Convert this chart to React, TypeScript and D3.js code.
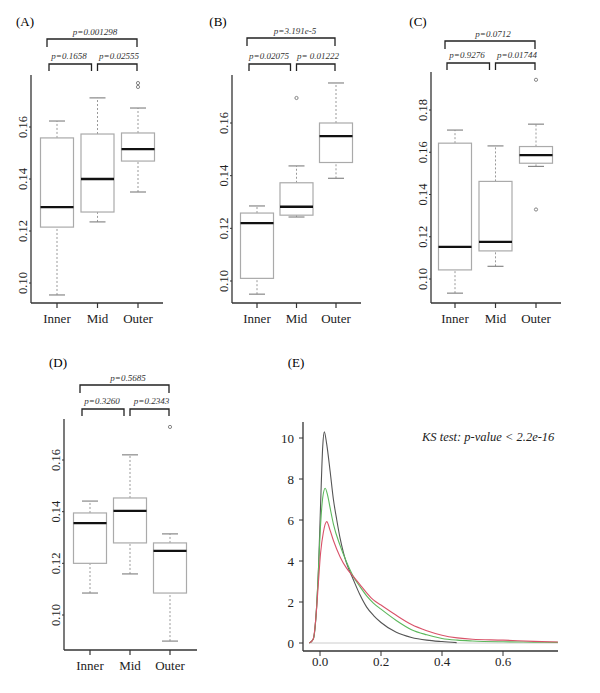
import React from "react";
import * as d3 from "d3";

const categories = ["Inner", "Mid", "Outer"];

// [min, q1, median, q3, max] per category
const statsA = [
  [0.0954, 0.1215, 0.1292, 0.1558, 0.1623],
  [0.1235, 0.1273, 0.14, 0.1573, 0.1712],
  [0.135, 0.1469, 0.1515, 0.1577, 0.1673],
];
const outliersA = [[], [], [0.1769, 0.1754]];
const pA = ["p=0.001298", "p=0.1658", "p=0.02555"];

const statsB = [
  [0.095, 0.101, 0.122, 0.1258, 0.1285],
  [0.1243, 0.125, 0.1282, 0.1373, 0.1437],
  [0.139, 0.145, 0.155, 0.16, 0.1752],
];
const outliersB = [[], [0.1695], []];
const pB = ["p=3.191e-5", "p=0.02075", "p= 0.01222"];

const statsC = [
  [0.0933, 0.1043, 0.1152, 0.1643, 0.1705],
  [0.106, 0.1133, 0.1176, 0.1462, 0.163],
  [0.1533, 0.1548, 0.1586, 0.1627, 0.1733],
];
const outliersC = [[], [], [0.1943, 0.1329]];
const pC = ["p=0.0712", "p=0.9276", "p=0.01744"];

const statsD = [
  [0.1085, 0.12, 0.1356, 0.1395, 0.1441],
  [0.1159, 0.1279, 0.1403, 0.1453, 0.162],
  [0.0899, 0.1085, 0.1248, 0.1279, 0.1314],
];
const outliersD = [[], [], [0.1728]];
const pD = ["p=0.5685", "p=0.3260", "p=0.2343"];

const ticksABD = [0.1, 0.12, 0.14, 0.16];
const ticksC = [0.1, 0.12, 0.14, 0.16, 0.18];

// Density curves for panel E: [x, density]
const densBlack: [number, number][] = [
  [-0.035, 0], [-0.022, 0.2], [-0.011, 1.8], [-0.005, 3.6], [0.002, 6.8],
  [0.009, 9.6], [0.014, 10.3], [0.022, 9.7], [0.033, 8.4], [0.044, 7.0],
  [0.055, 6.0], [0.066, 5.1], [0.077, 4.4], [0.087, 3.9], [0.109, 3.1],
  [0.131, 2.35], [0.153, 1.75], [0.175, 1.35], [0.2, 1.0], [0.25, 0.52],
  [0.3, 0.27], [0.35, 0.14], [0.4, 0.07], [0.448, 0.02],
];
const densGreen: [number, number][] = [
  [-0.035, 0], [-0.022, 0.2], [-0.011, 1.8], [-0.005, 3.6], [0.002, 5.8],
  [0.009, 7.1], [0.017, 7.55], [0.025, 7.2], [0.033, 6.6], [0.044, 5.8],
  [0.066, 4.75], [0.087, 3.95], [0.109, 3.25], [0.131, 2.75], [0.153, 2.3],
  [0.175, 1.95], [0.2, 1.65], [0.25, 1.1], [0.3, 0.65], [0.35, 0.4],
  [0.4, 0.22], [0.45, 0.14], [0.5, 0.1], [0.6, 0.06], [0.7, 0.04], [0.78, 0.03],
];
const densRed: [number, number][] = [
  [-0.035, 0], [-0.022, 0.2], [-0.011, 1.7], [-0.005, 3.0], [0.002, 4.4],
  [0.011, 5.4], [0.022, 5.92], [0.033, 5.5], [0.044, 5.0], [0.066, 4.2],
  [0.087, 3.65], [0.109, 3.25], [0.131, 2.85], [0.153, 2.45], [0.175, 2.1],
  [0.2, 1.85], [0.25, 1.35], [0.3, 0.9], [0.35, 0.6], [0.4, 0.38],
  [0.45, 0.25], [0.5, 0.18], [0.6, 0.14], [0.7, 0.08], [0.78, 0.05],
];
const ticksEX = [0, 0.2, 0.4, 0.6];
const ticksEY = [0, 2, 4, 6, 8, 10];

const FONT = "'Liberation Serif'";

type PanelProps = {
  label: string;
  labelX: number;
  labelY: number;
  axisX: number;
  xEnd: number;
  yTop: number;
  yBot: number;
  yDom: [number, number];
  yRange: [number, number];
  catRange: [number, number];
  stats: number[][];
  outliers: number[][];
  ticks: number[];
  pvals: string[];
  topY: number;
  lowY: number;
  xLabelY: number;
};

const txt = (size: number, italic = false): React.CSSProperties => ({
  fontFamily: FONT,
  fontSize: size,
  fontStyle: italic ? "italic" : "normal",
});

function BoxPanel(p: PanelProps) {
  const y = d3.scaleLinear().domain(p.yDom).range(p.yRange);
  const x = d3.scalePoint<string>().domain(categories).range(p.catRange);
  const bw = 33;
  const cap = 16;
  const c0 = x(categories[0])!;
  const c1 = x(categories[1])!;
  const c2 = x(categories[2])!;
  const br = "#222";
  return (
    <g>
      <text x={p.labelX} y={p.labelY} style={txt(13)} textAnchor="middle">{p.label}</text>
      {/* brackets */}
      <path d={`M${c0 - 10},${p.topY + 8}V${p.topY}H${c2 - 1}V${p.topY + 8}`} fill="none" stroke={br} strokeWidth={1.3} />
      <path d={`M${c0 - 8},${p.lowY + 7}V${p.lowY}H${c1 - 6}V${p.lowY + 7}`} fill="none" stroke={br} strokeWidth={1.3} />
      <path d={`M${c1},${p.lowY + 7}V${p.lowY}H${c2 - 1}V${p.lowY + 7}`} fill="none" stroke={br} strokeWidth={1.3} />
      <text x={c0 + 38} y={p.topY - 4} style={txt(9, true)} textAnchor="middle" fill="#333">{p.pvals[0]}</text>
      <text x={c0 + 12} y={p.lowY - 5} style={txt(9, true)} textAnchor="middle" fill="#333">{p.pvals[1]}</text>
      <text x={c1 + 21.5} y={p.lowY - 5} style={txt(9, true)} textAnchor="middle" fill="#333">{p.pvals[2]}</text>
      {/* axes */}
      <line x1={p.axisX} x2={p.axisX} y1={p.yTop} y2={p.yBot} stroke="#333" strokeWidth={1.3} />
      <line x1={p.axisX} x2={p.xEnd} y1={p.yBot} y2={p.yBot} stroke="#333" strokeWidth={1.3} />
      {p.ticks.map((t) => (
        <g key={t}>
          <line x1={p.axisX - 2} x2={p.axisX} y1={y(t)} y2={y(t)} stroke="#333" />
          <text
            x={p.axisX - 4}
            y={y(t)}
            transform={`rotate(-90, ${p.axisX - 4}, ${y(t)})`}
            textAnchor="middle"
            style={txt(12.5)}
            fill="#222"
          >
            {t.toFixed(2)}
          </text>
        </g>
      ))}
      {categories.map((c) => (
        <g key={c}>
          <line x1={x(c)} x2={x(c)} y1={p.yBot} y2={p.yBot + 5} stroke="#333" strokeWidth={1.2} />
          <text x={x(c)} y={p.xLabelY} textAnchor="middle" style={txt(13)} fill="#222">{c}</text>
        </g>
      ))}
      {/* boxes */}
      {p.stats.map((s, i) => {
        const cx = x(categories[i])!;
        return (
          <g key={i}>
            <line x1={cx} x2={cx} y1={y(s[0])} y2={y(s[1])} stroke="#999" strokeDasharray="2,2" />
            <line x1={cx} x2={cx} y1={y(s[3])} y2={y(s[4])} stroke="#999" strokeDasharray="2,2" />
            <line x1={cx - cap / 2} x2={cx + cap / 2} y1={y(s[0])} y2={y(s[0])} stroke="#888" strokeWidth={1.2} />
            <line x1={cx - cap / 2} x2={cx + cap / 2} y1={y(s[4])} y2={y(s[4])} stroke="#888" strokeWidth={1.2} />
            <rect x={cx - bw / 2} y={y(s[3])} width={bw} height={y(s[1]) - y(s[3])} fill="white" stroke="#aaa" strokeWidth={1.2} />
            <line x1={cx - bw / 2} x2={cx + bw / 2} y1={y(s[2])} y2={y(s[2])} stroke="#111" strokeWidth={2.3} />
            {p.outliers[i].map((o, j) => (
              <circle key={j} cx={cx} cy={y(o)} r={1.6} fill="none" stroke="#777" strokeWidth={0.9} />
            ))}
          </g>
        );
      })}
    </g>
  );
}

function DensityPanel() {
  const x = d3.scaleLinear().domain([0, 0.6]).range([320, 503]);
  const y = d3.scaleLinear().domain([0, 10]).range([643, 438]);
  const line = d3
    .line<[number, number]>()
    .x((d) => x(d[0]))
    .y((d) => y(d[1]))
    .curve(d3.curveMonotoneX);
  const axisX = 303;
  const yTop = 422;
  const yBot = 651;
  const xEnd = 558;
  return (
    <g>
      <text x={296} y={367} style={txt(13)} textAnchor="middle">(E)</text>
      <line x1={310} x2={xEnd} y1={y(0)} y2={y(0)} stroke="#ccc" strokeWidth={1} />
      <line x1={axisX} x2={axisX} y1={yTop} y2={yBot} stroke="#333" strokeWidth={1.3} />
      <line x1={axisX} x2={xEnd} y1={yBot} y2={yBot} stroke="#333" strokeWidth={1.3} />
      {ticksEY.map((t) => (
        <g key={t}>
          <line x1={axisX - 4} x2={axisX} y1={y(t)} y2={y(t)} stroke="#333" />
          <text x={axisX - 9} y={y(t) + 4.5} textAnchor="end" style={txt(13)} fill="#222">{t}</text>
        </g>
      ))}
      {ticksEX.map((t) => (
        <g key={t}>
          <line x1={x(t)} x2={x(t)} y1={yBot} y2={yBot + 5} stroke="#333" />
          <text x={x(t)} y={yBot + 15} textAnchor="middle" style={txt(13)} fill="#222">{t.toFixed(1)}</text>
        </g>
      ))}
      <path d={line(densBlack)!} fill="none" stroke="#555" strokeWidth={1.1} />
      <path d={line(densGreen)!} fill="none" stroke="#5cb85c" strokeWidth={1.1} />
      <path d={line(densRed)!} fill="none" stroke="#d9536a" strokeWidth={1.1} />
      <text x={422} y={441} style={txt(12.5, true)} fill="#222">KS test: p-value &lt; 2.2e-16</text>
    </g>
  );
}

export default function App() {
  return (
    <svg width={600} height={693} style={{ position: "absolute", left: 0, top: 0, background: "white" }}>
      <rect width={600} height={693} fill="white" />
      <BoxPanel
        label="(A)" labelX={25} labelY={26}
        axisX={31} xEnd={163} yTop={75} yBot={303}
        yDom={[0.1, 0.16]} yRange={[283, 127]} catRange={[57, 138]}
        stats={statsA} outliers={outliersA} ticks={ticksABD} pvals={pA}
        topY={39} lowY={64} xLabelY={323}
      />
      <BoxPanel
        label="(B)" labelX={218} labelY={26}
        axisX={232} xEnd={361} yTop={75} yBot={303}
        yDom={[0.1, 0.16]} yRange={[281, 123]} catRange={[257, 336]}
        stats={statsB} outliers={outliersB} ticks={ticksABD} pvals={pB}
        topY={38} lowY={64} xLabelY={323}
      />
      <BoxPanel
        label="(C)" labelX={418} labelY={26}
        axisX={431} xEnd={561} yTop={72} yBot={303}
        yDom={[0.1, 0.18]} yRange={[279, 110]} catRange={[455, 536]}
        stats={statsC} outliers={outliersC} ticks={ticksC} pvals={pC}
        topY={41} lowY={63} xLabelY={323}
      />
      <BoxPanel
        label="(D)" labelX={58} labelY={367}
        axisX={64} xEnd={197} yTop={419} yBot={650}
        yDom={[0.1, 0.16]} yRange={[615, 460]} catRange={[90, 170]}
        stats={statsD} outliers={outliersD} ticks={ticksABD} pvals={pD}
        topY={385} lowY={409} xLabelY={670}
      />
      <DensityPanel />
    </svg>
  );
}
